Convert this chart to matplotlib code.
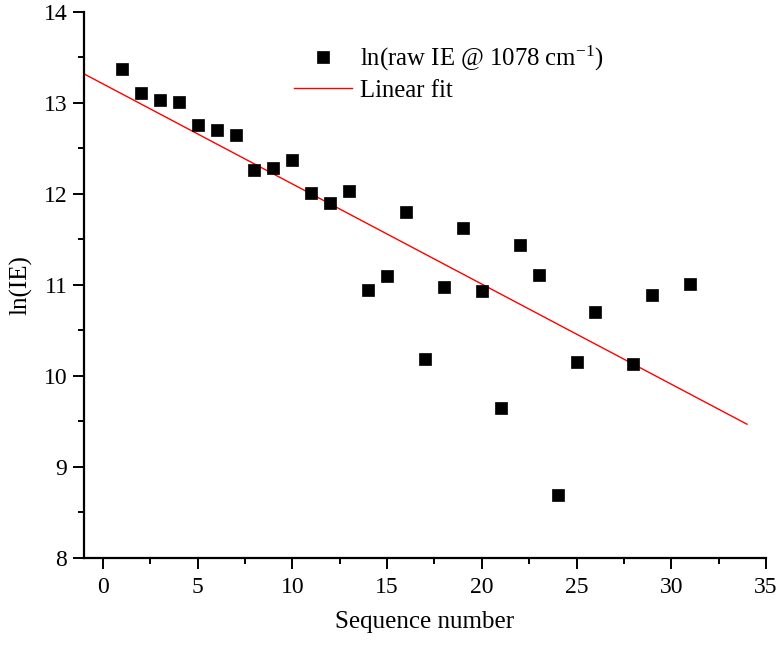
import matplotlib
matplotlib.use("Agg")
import matplotlib.pyplot as plt
import numpy as np

plt.rcParams['font.family'] = ['Liberation Serif', 'DejaVu Serif']
plt.rcParams['mathtext.fontset'] = 'custom'
plt.rcParams['mathtext.rm'] = 'Liberation Serif'
plt.rcParams['mathtext.it'] = 'Liberation Serif:italic'

seq = [1, 2, 3, 4, 5, 6, 7, 8, 9, 10, 11, 12, 13, 14, 15, 16, 17, 18, 19, 20,
       21, 22, 23, 24, 25, 26, 28, 29, 31]
ln_ie = [13.37, 13.11, 13.03, 13.01, 12.755, 12.70, 12.65, 12.26, 12.29, 12.37,
         12.01, 11.90, 12.03, 10.94, 11.10, 11.80, 10.19, 10.98, 11.63, 10.93,
         9.65, 11.44, 11.11, 8.69, 10.15, 10.70, 10.13, 10.89, 11.01]
fit_intercept = 13.21
fit_slope = -0.110
fit_x = [-1, 34]

fig = plt.figure(figsize=(7.8, 6.45), dpi=100)
ax = fig.add_axes([0.1077, 0.1349, 0.8743, 0.8465])

ax.plot(seq, ln_ie, 's', color='black', markersize=8.5, mew=0.5,
        label=r'ln(raw IE @ 1078 cm$^{\mathregular{-1}}$)', zorder=3)
fx = np.array(fit_x, dtype=float)
ax.plot(fx, fit_intercept + fit_slope * fx, '-', color='red', lw=1.0,
        label='Linear fit', zorder=2)

ax.set_xlim(-1, 35)
ax.set_ylim(8, 14)
ax.set_xticks([0, 5, 10, 15, 20, 25, 30, 35])
ax.set_yticks([8, 9, 10, 11, 12, 13, 14])
ax.set_xticks(np.arange(2.5, 35, 5), minor=True)
ax.set_yticks(np.arange(8.5, 14, 1), minor=True)

for s in ['top', 'right']:
    ax.spines[s].set_visible(False)
for s in ['left', 'bottom']:
    ax.spines[s].set_linewidth(1.6)

ax.tick_params(axis='x', which='major', direction='out', length=8, width=1.4, labelsize=17, pad=6)
ax.tick_params(axis='y', which='major', direction='out', length=8, width=1.4, labelsize=17, pad=4)
ax.tick_params(which='minor', direction='out', length=4, width=1.4)

ax.set_xlabel('Sequence number', fontsize=18)
ax.set_ylabel('ln(IE)', fontsize=18, labelpad=8)
ax.xaxis.set_label_coords(0.5, -0.097)

leg = ax.legend(loc='upper left', bbox_to_anchor=(0.294, 0.959), frameon=False,
                fontsize=17.8, handlelength=2.35, handletextpad=0.3, borderaxespad=0,
                labelspacing=0.25)

fig.savefig('out.png', dpi=100)
